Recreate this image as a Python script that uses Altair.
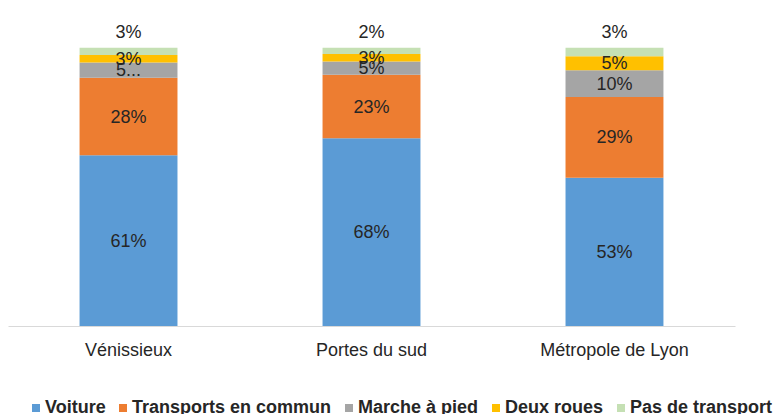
import altair as alt
import pandas as pd

categories = ["Vénissieux", "Portes du sud", "Métropole de Lyon"]
series = ["Voiture", "Transports en commun", "Marche à pied", "Deux roues", "Pas de transport"]
colors = ["#5B9BD5", "#ED7D31", "#A5A5A5", "#FFC000", "#C5E0B4"]

voiture = [61.4, 67.5, 53.3]
transports = [27.8, 22.8, 29.0]
marche = [5.5, 4.8, 9.6]
deux_roues = [2.7, 2.7, 5.1]
pas_transport = [2.6, 2.2, 3.0]

labels_voiture = ["61%", "68%", "53%"]
labels_transports = ["28%", "23%", "29%"]
labels_marche = ["5...", "5%", "10%"]
labels_deux_roues = ["3%", "3%", "5%"]
labels_pas_transport = ["3%", "2%", "3%"]

values = [voiture, transports, marche, deux_roues, pas_transport]
labels = [labels_voiture, labels_transports, labels_marche, labels_deux_roues, labels_pas_transport]

rows = []
for si, s in enumerate(series):
    for ci, c in enumerate(categories):
        rows.append({"cat": c, "serie": s, "order": si, "value": values[si][ci], "label": labels[si][ci]})
df = pd.DataFrame(rows)

base = alt.Chart(df).transform_stack(
    stack="value", as_=["y0", "y1"], groupby=["cat"], sort=[alt.SortField("order", order="ascending")]
).transform_calculate(mid="(datum.y0 + datum.y1) / 2")

x_enc = alt.X(
    "cat:N",
    sort=categories,
    title=None,
    scale=alt.Scale(paddingInner=0.597, paddingOuter=0.2945),
    axis=alt.Axis(
        labelAngle=0, ticks=False, domainColor="#d9d9d9", domainWidth=1,
        labelFont="Liberation Sans", labelFontSize=18, labelColor="#262626", labelPadding=15,
    ),
)
y_scale = alt.Scale(domain=[0, 110], nice=False, zero=True)

bars = base.mark_bar().encode(
    x=x_enc,
    y=alt.Y("y0:Q", scale=y_scale, axis=None),
    y2="y1:Q",
    color=alt.Color(
        "serie:N",
        scale=alt.Scale(domain=series, range=colors),
        legend=alt.Legend(
            title=None, orient="none", direction="horizontal", legendX=19, legendY=379,
            symbolType="square", symbolSize=64, symbolStrokeWidth=0, labelOffset=0,
            columnPadding=8, labelFont="Liberation Sans", labelFontWeight="bold",
            labelFontSize=18, labelColor="#262626", labelLimit=400,
        ),
    ),
)

inside = base.transform_filter("datum.order < 4").mark_text(
    font="Liberation Sans", fontSize=18, color="#262626", baseline="middle", dy=1
).encode(
    x=alt.X("cat:N", sort=categories),
    y=alt.Y("mid:Q", scale=y_scale),
    text="label:N",
)

top = base.transform_filter("datum.order == 4").mark_text(
    font="Liberation Sans", fontSize=18, color="#262626", baseline="middle", dy=-15
).encode(
    x=alt.X("cat:N", sort=categories),
    y=alt.Y("y1:Q", scale=y_scale),
    text="label:N",
)

chart = alt.layer(bars, inside, top).properties(
    width=727, height=306,
    padding={"left": 0, "top": 12, "right": 40, "bottom": 90},
    autosize=alt.AutoSizeParams(type="none"),
).configure_view(stroke=None)

chart.save("out.html", embed_options={"renderer": "svg", "actions": False})
